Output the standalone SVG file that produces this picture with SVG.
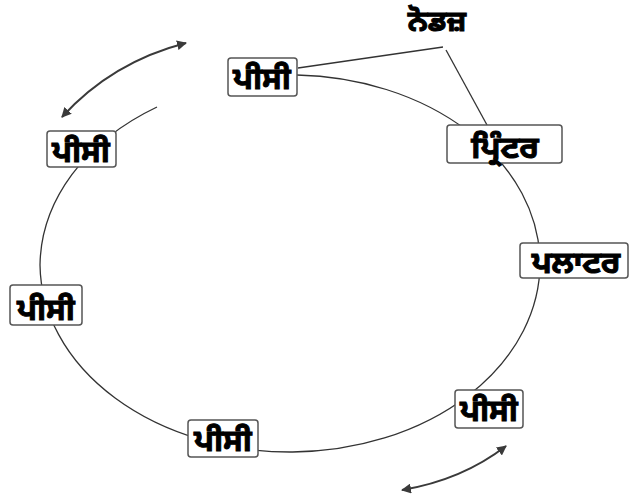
<svg xmlns="http://www.w3.org/2000/svg" width="629" height="497" viewBox="0 0 629 497">
<defs>
<marker id="ah" viewBox="0 0 10 10" refX="9" refY="5" markerWidth="10" markerHeight="10" markerUnits="userSpaceOnUse" orient="auto-start-reverse">
<path d="M0,0 L10,5 L0,10 z" fill="#3a3a3a"/>
</marker>
<style>
.ring{fill:none;stroke:#333;stroke-width:1.3}
.arr{fill:none;stroke:#3a3a3a;stroke-width:2}
.box{fill:#fff;stroke:#555;stroke-width:1.5}
.lbl{font-family:"Noto Sans Gurmukhi","Raavi","Noto Sans","DejaVu Sans",sans-serif;font-weight:bold;font-size:31px;fill:#000;stroke:#000;stroke-width:1;text-anchor:middle}
</style>
</defs>
<rect width="629" height="497" fill="#fff"/>
<g id="connectors">
<path class="ring" d="M157,107 A250,189 0 0 0 40,265 A250,189 0 0 0 540,261 A250,189 0 0 0 297,75"/>
<line class="ring" x1="298" y1="68" x2="443" y2="47"/>
<line class="ring" x1="446" y1="50" x2="487" y2="125"/>
<path class="arr" d="M186,43 Q112,62 62,117" marker-start="url(#ah)" marker-end="url(#ah)"/>
<path class="arr" d="M506,446 Q462,480 402,490" marker-start="url(#ah)" marker-end="url(#ah)"/>
</g>
<g id="nodes-label"><text class="lbl" x="437" y="31" style="font-size:29px">ਨੋਡਜ਼</text></g>
<g id="pc-top"><rect class="box" x="228" y="58" width="69" height="38" rx="3"/><text class="lbl" x="262" y="89">ਪੀਸੀ</text></g>
<g id="pc-left1"><rect class="box" x="47" y="131" width="69" height="36" rx="3"/><text class="lbl" x="81" y="162">ਪੀਸੀ</text></g>
<g id="printer"><rect class="box" x="447" y="125" width="115" height="38" rx="3"/><text class="lbl" x="505" y="158">ਪ੍ਰਿੰਟਰ</text></g>
<g id="plotter"><rect class="box" x="520" y="243" width="108" height="35" rx="3"/><text class="lbl" x="576" y="273">ਪਲਾਟਰ</text></g>
<g id="pc-left2"><rect class="box" x="10" y="285" width="72" height="40" rx="3"/><text class="lbl" x="46" y="320">ਪੀਸੀ</text></g>
<g id="pc-bottomright"><rect class="box" x="455" y="390" width="68" height="38" rx="3"/><text class="lbl" x="489" y="421">ਪੀਸੀ</text></g>
<g id="pc-bottom"><rect class="box" x="188" y="420" width="70" height="37" rx="3"/><text class="lbl" x="223" y="451">ਪੀਸੀ</text></g>
</svg>
